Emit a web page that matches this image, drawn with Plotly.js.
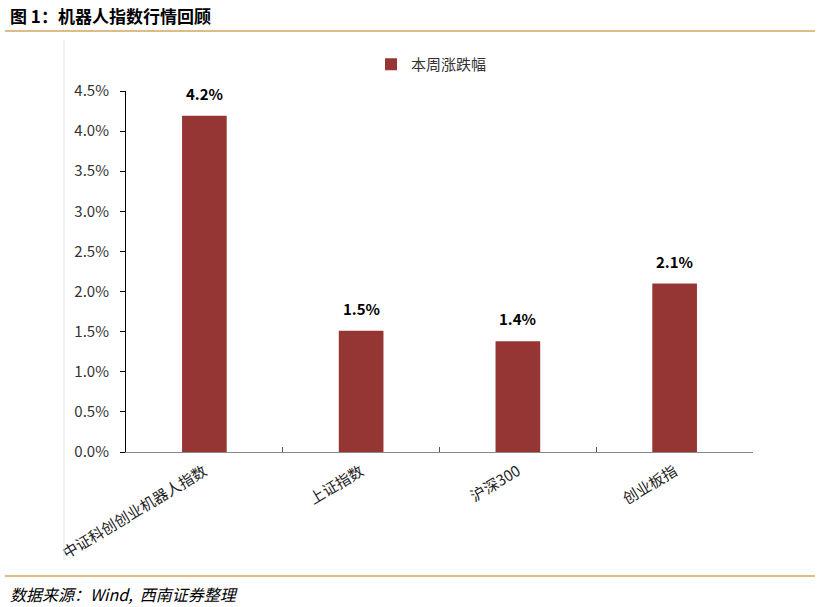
<!DOCTYPE html>
<html><head><meta charset="utf-8">
<script src="https://cdn.plot.ly/plotly-3.0.1.min.js"></script>
<style>body{margin:0;padding:0;background:#fff}#chart{width:821px;height:607px}</style>
</head><body><div id="chart"></div>
<script>
const categories = ['中证科创创业机器人指数', '上证指数', '沪深300', '创业板指'];
const weeklyChange = [0.0419, 0.0151, 0.0138, 0.0210];
const valueLabels = ['4.2%', '1.5%', '1.4%', '2.1%'];
const seriesName = '本周涨跌幅';
const chartTitle = '图 1：机器人指数行情回顾';
const sourceNote = '数据来源：Wind,  西南证券整理';

const L = 126, R = 753, T = 91, B = 452, W = 821, H = 607;
const px = x => (x - L) / (R - L);
const py = y => (B - y) / (B - T);
const cjk = '"Noto Sans CJK SC", "Microsoft YaHei", sans-serif';

const trace = {
  type: 'bar', x: categories, y: weeklyChange, name: seriesName,
  marker: {color: '#963634'}, width: 0.285,
  hoverinfo: 'none'
};

const valueAnnotations = categories.map((c, i) => ({
  x: c, y: weeklyChange[i], xref: 'x', yref: 'y', text: valueLabels[i],
  showarrow: false, yanchor: 'bottom', yshift: 10,
  font: {family: cjk, size: 15, color: '#000', weight: 'bold'}
}));

const layout = {
  width: W, height: H,
  margin: {l: L, r: W - R, t: T, b: H - B, pad: 0},
  paper_bgcolor: '#fff', plot_bgcolor: '#fff',
  showlegend: true,
  legend: {orientation: 'h', x: px(371), xanchor: 'left', y: py(48), yanchor: 'top',
    font: {family: cjk, size: 15, color: '#333'}, itemwidth: 30},
  bargap: 0.7,
  xaxis: {type: 'category', showline: true, linecolor: '#888', linewidth: 1,
    ticks: 'inside', tickson: 'boundaries', ticklen: 5, tickcolor: '#555',
    tickangle: -31, tickfont: {family: cjk, size: 15, color: '#222'}, ticklabelstandoff: 4,
    showgrid: false, zeroline: false, fixedrange: true},
  yaxis: {range: [0, 0.045], dtick: 0.005, tickformat: '.1%', showline: true,
    linecolor: '#000', linewidth: 1, ticks: 'outside', ticklen: 5, tickcolor: '#000',
    tickfont: {family: cjk, size: 15, color: '#333'}, ticklabelstandoff: 8,
    showgrid: false, zeroline: false, fixedrange: true},
  shapes: [
    {type: 'line', xref: 'paper', yref: 'paper', x0: px(5), x1: px(815), y0: py(31), y1: py(31), line: {color: '#D7A45E', width: 1.5}},
    {type: 'line', xref: 'paper', yref: 'paper', x0: px(5), x1: px(815), y0: py(576), y1: py(576), line: {color: '#D7A45E', width: 1.5}},
    {type: 'line', xref: 'paper', yref: 'paper', x0: px(64), x1: px(64), y0: py(40), y1: py(560), line: {color: '#E3E3E3', width: 1}}
  ],
  annotations: [
    {text: chartTitle, xref: 'paper', yref: 'paper', x: px(8), y: py(15), xanchor: 'left', yanchor: 'middle', showarrow: false,
      font: {family: cjk, size: 17, color: '#000', weight: 'bold'}},
    {text: sourceNote, xref: 'paper', yref: 'paper', x: px(8), y: py(594), xanchor: 'left', yanchor: 'middle', showarrow: false,
      font: {family: cjk, size: 16, color: '#000', style: 'italic'}}
  ].concat(valueAnnotations)
};

Plotly.newPlot('chart', [trace], layout, {displayModeBar: false, staticPlot: true});
</script></body></html>
